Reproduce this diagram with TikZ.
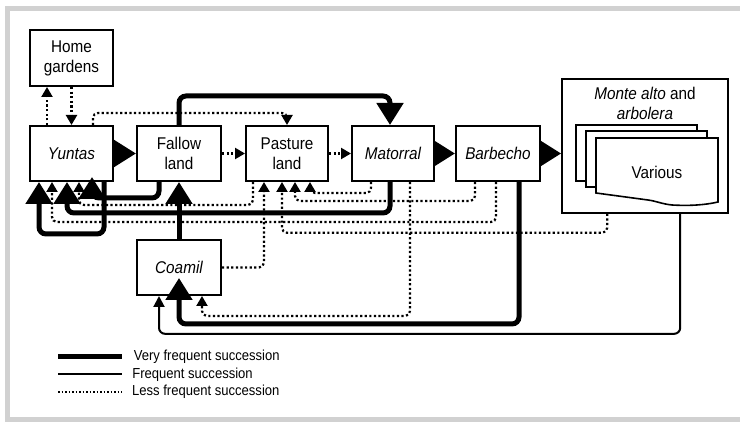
\documentclass[tikz,border=0pt]{standalone}
\usepackage{fontspec}
\setmainfont{Liberation Sans}[FakeStretch=0.9]
\usetikzlibrary{arrows.meta}
\newcommand\boxfont{\fontsize{17}{20}\selectfont}
\newcommand\keyfont{\fontsize{14.5}{17.5}\selectfont}
\begin{document}
\begin{tikzpicture}[x=1pt,y=-1pt,
	box/.style={draw,line width=2pt,inner sep=0pt,minimum width=83pt,minimum height=55pt,align=center,font=\boxfont},
	vfreq/.style={line width=5pt,rounded corners=7pt,-{Triangle[width=26pt,length=22pt]}},
	freq/.style={line width=2pt,rounded corners=6pt,-{Triangle[width=11pt,length=11pt]}},
	less/.style={line width=2.2pt,dash pattern=on 2.2pt off 2.4pt,rounded corners=5pt,-{Triangle[width=11pt,length=10pt]}}]
	\useasboundingbox (0,0) rectangle (740,422);
	% frame
	\draw[black!18,line width=5pt] (740,8.5) -- (7.5,8.5) -- (7.5,419.5) -- (740,419.5);
	% boxes
	\node[box,minimum height=56pt] (home) at (71.5,58) {Home\\gardens};
	\node[box] (yuntas) at (71.5,153.5) {\itshape Yuntas};
	\node[box,minimum width=84pt] (fallow) at (179,153.5) {Fallow\\land};
	\node[box,minimum width=82pt] (pasture) at (287,153.5) {Pasture\\land};
	\node[box,minimum width=82pt] (matorral) at (393,153.5) {\itshape Matorral};
	\node[box,minimum width=84pt] (barbecho) at (498,153.5) {\itshape Barbecho};
	\node[box,minimum width=84pt] (coamil) at (179,267.5) {\itshape Coamil};
	\node[box,line width=1.6pt,minimum width=166pt,minimum height=134pt] (monte) at (645,146) {};
	\node[font=\boxfont,align=center,inner sep=0pt] (title) at (645,103) {\itshape Monte alto\upshape{} and\\\itshape arbolera};
	% various
	\draw[line width=1.6pt,fill=white] (576,125) rectangle (697,181);
	\draw[line width=1.6pt,fill=white] (586,131) rectangle (707,187);
	\draw[line width=1.6pt,fill=white] (596,138) -- (718,138) -- (718,202) .. controls (705,205) and (690,206) .. (672,205) .. controls (662,204) and (656,201) .. (648,200) -- (596,193) -- cycle;
	\node[font=\boxfont] (various) at (657,172) {Various};
	% main row
	\draw[vfreq] (yuntas) -- (fallow);
	\draw[less] (fallow) -- (pasture);
	\draw[less] (pasture) -- (matorral);
	\draw[vfreq] (matorral) -- (barbecho);
	\draw[vfreq] (barbecho.east) -- (barbecho.east -| monte.west);
	% top
	\draw[less] ([xshift=18pt]yuntas.north west) -- ([xshift=18pt]home.south west);
	\draw[less] (home.south) -- (yuntas.north);
	\draw[less] ([xshift=64pt]yuntas.north west) -- ++(0,-12) -| (pasture.north);
	\draw[vfreq] (fallow.north) -- ++(0,-29) -| ([xshift=39pt]matorral.north west);
	% back to yuntas
	\draw[vfreq] ([xshift=23pt]fallow.south west) -- ++(0,16) -| ([xshift=63pt,yshift=5pt]yuntas.south west);
	\draw[less] ([xshift=8pt]pasture.south west) -- ++(0,23) -| ([xshift=50pt]yuntas.south west);
	\draw[vfreq] ([xshift=39pt]matorral.south west) -- ++(0,31) -| ([xshift=38pt]yuntas.south west);
	\draw[less] ([xshift=41pt]barbecho.south west) -- ++(0,40) -| ([xshift=23pt]yuntas.south west);
	\draw[vfreq] ([xshift=75pt]yuntas.south west) -- ++(0,52) -| ([xshift=10pt]yuntas.south west);
	% back to pasture
	\draw[less] ([xshift=20pt]matorral.south west) -- ++(0,11) -| ([xshift=65pt]pasture.south west);
	\draw[less] ([xshift=20pt]barbecho.south west) -- ++(0,19) -| ([xshift=50pt]pasture.south west);
	\draw[less] ([xshift=46pt]monte.south west) -- ++(0,19) -| ([xshift=37pt]pasture.south west);
	\draw[less] (coamil.east) -| ([xshift=19pt]pasture.south west);
	% coamil
	\draw[vfreq] (coamil.north) -- (fallow.south);
	\draw[less] ([xshift=59pt]matorral.south west) -- ++(0,134) -| ([xshift=66pt]coamil.south west);
	\draw[vfreq] ([xshift=64pt]barbecho.south west) -- ++(0,142) -| ([xshift=43pt,yshift=18pt]coamil.south west);
	\draw[freq] ([xshift=119pt]monte.south west) -- ++(0,120) -| ([xshift=23pt]coamil.south west);
	% legend
	\draw[line width=5pt] (58,357) -- (122,357) node[anchor=west,xshift=6pt,font=\keyfont] (k1) {Very frequent succession};
	\draw[line width=2pt] (58,374.5) -- (122,374.5) node[anchor=west,xshift=6pt,font=\keyfont] (k2) {Frequent succession};
	\draw[line width=1.7pt,dash pattern=on 1.7pt off 1.8pt] (58,392) -- (122,392) node[anchor=west,xshift=6pt,font=\keyfont] (k3) {Less frequent succession};
\end{tikzpicture}
\end{document}
